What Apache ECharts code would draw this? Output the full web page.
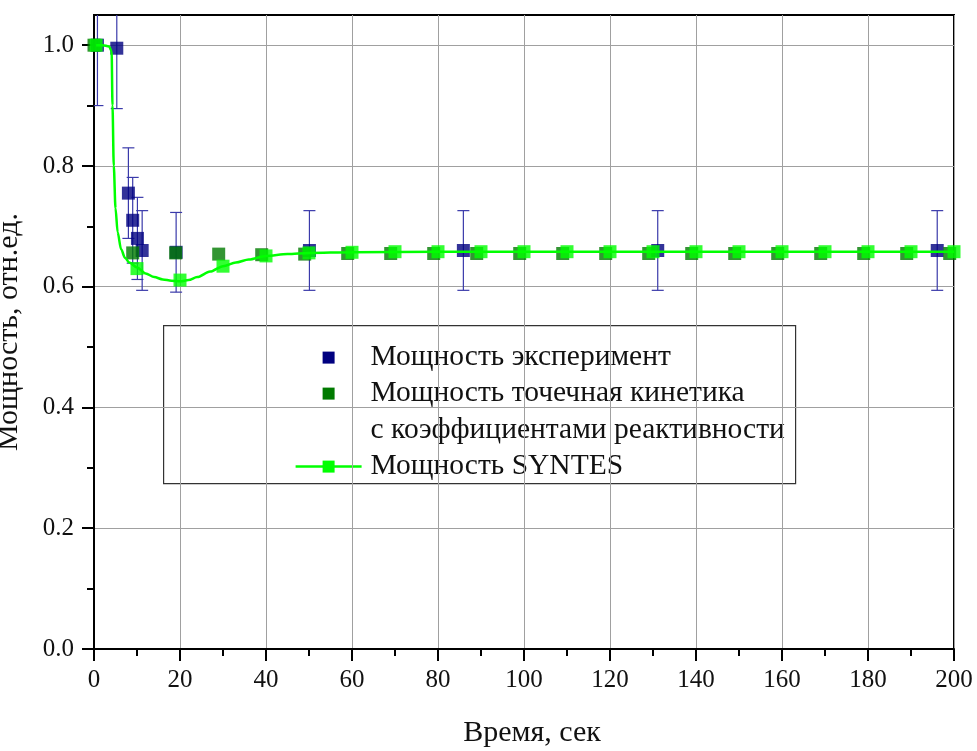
<!DOCTYPE html>
<html>
<head>
<meta charset="utf-8">
<script src="https://cdn.jsdelivr.net/npm/echarts@6/dist/echarts.min.js"></script>
<style>html,body{margin:0;padding:0;background:#fff;}#c{width:977px;height:751px;}</style>
</head>
<body>
<div id="c"></div>
<script>
// Experiment (blue squares with error bars)
const expX   = [0.8, 5.3, 8.0, 9.0, 10.1, 11.2, 19.1, 50.1, 85.9, 131.1, 196.1];
const expY   = [1.0, 0.995, 0.755, 0.71, 0.68, 0.66, 0.657, 0.66, 0.66, 0.66, 0.66];
const expErr = [0.1, 0.1, 0.075, 0.071, 0.068, 0.066, 0.066, 0.066, 0.066, 0.066, 0.066];
// Point kinetics with reactivity coefficients (dark green squares)
const kinX = [0, 9, 19, 29, 39, 49, 59, 69, 79, 89, 99, 109, 119, 129, 139, 149, 159, 169, 179, 189, 199];
const kinY = [1.0, 0.656, 0.656, 0.654, 0.653, 0.654, 0.655, 0.655, 0.655, 0.655, 0.655, 0.655, 0.655, 0.655, 0.655, 0.655, 0.655, 0.655, 0.655, 0.655, 0.655];
// SYNTES markers
const synMarkX = [0.5, 10, 20, 30, 40, 50, 60, 70, 80, 90, 100, 110, 120, 130, 140, 150, 160, 170, 180, 190, 200];
const synMarkY = [1.0, 0.630, 0.611, 0.634, 0.651, 0.656, 0.657, 0.658, 0.658, 0.658, 0.658, 0.658, 0.658, 0.658, 0.658, 0.658, 0.658, 0.658, 0.658, 0.658, 0.658];
// SYNTES curve
const synCurveX = [0.5, 2, 3.5, 4.1, 4.3, 4.6, 5.0, 5.5, 6.3, 7.2, 8.2, 10, 12, 14, 16, 18, 20, 22, 24, 27, 30, 33, 36, 40, 45, 50, 60, 80, 100, 150, 200];
const synCurveY = [1.0, 1.0, 0.998, 0.99, 0.9, 0.8, 0.73, 0.69, 0.662, 0.648, 0.640, 0.632, 0.622, 0.616, 0.612, 0.610, 0.609, 0.611, 0.616, 0.625, 0.634, 0.640, 0.645, 0.651, 0.654, 0.656, 0.657, 0.658, 0.658, 0.658, 0.658];
// Axis ticks
const yTicks = [0, 0.2, 0.4, 0.6, 0.8, 1.0];
const legendNames = ['Мощность эксперимент', 'Мощность точечная кинетика', 'с коэффициентами реактивности', 'Мощность SYNTES'];

const FONT = 'Liberation Serif';
const LFS = 29.5;
const zip = (a, b) => a.map((v, i) => [v, b[i]]);

const chart = echarts.init(document.getElementById('c'), null, {renderer: 'canvas'});
const option = {
  backgroundColor: '#fff',
  animation: false,
  grid: {left: 94, right: 23, top: 15, bottom: 102, show: true, borderColor: '#000', borderWidth: 2, outerBoundsMode: 'none'},
  xAxis: {
    type: 'value', min: 0, max: 200, interval: 20,
    name: 'Время, сек', nameLocation: 'middle', nameGap: 69,
    nameTextStyle: {fontFamily: FONT, fontSize: 30, color: '#111', padding: [0, 0, 0, 16]},
    axisLine: {show: true, onZero: false, lineStyle: {color: '#000', width: 2}},
    axisTick: {show: true, inside: false, length: 12, lineStyle: {color: '#000', width: 2}},
    minorTick: {show: true, splitNumber: 2, length: 7, lineStyle: {color: '#000', width: 2}},
    axisLabel: {fontFamily: FONT, fontSize: 25, color: '#111', margin: 19},
    splitLine: {show: true, lineStyle: {color: '#a0a0a0', width: 1}}
  },
  yAxis: {
    type: 'value', min: 0, max: 1.05, interval: 0.2,
    name: 'Мощность, отн.ед.', nameLocation: 'middle', nameGap: 70, nameRotate: 90,
    nameTextStyle: {fontFamily: FONT, fontSize: 30, color: '#111'},
    axisLine: {show: true, onZero: false, lineStyle: {color: '#000', width: 2}},
    axisTick: {show: true, inside: false, length: 12, customValues: yTicks, lineStyle: {color: '#000', width: 2}},
    minorTick: {show: true, splitNumber: 2, length: 7, lineStyle: {color: '#000', width: 2}},
    axisLabel: {fontFamily: FONT, fontSize: 25, color: '#111', margin: 20, customValues: yTicks,
      formatter: v => v.toFixed(1)},
    splitLine: {show: true, lineStyle: {color: '#a0a0a0', width: 1}}
  },
  series: [
    {
      type: 'custom', name: 'err', clip: true, z: 2,
      data: expX.map((x, i) => [x, expY[i], expErr[i]]),
      renderItem: (params, api) => {
        const x = api.value(0), y = api.value(1), e = api.value(2);
        const t = api.coord([x, y + e]), b = api.coord([x, y - e]);
        const hw = 6, st = {stroke: '#3a3aaa', lineWidth: 1.2};
        return {type: 'group', children: [
          {type: 'line', shape: {x1: t[0], y1: t[1], x2: b[0], y2: b[1]}, style: st},
          {type: 'line', shape: {x1: t[0] - hw, y1: t[1], x2: t[0] + hw, y2: t[1]}, style: st},
          {type: 'line', shape: {x1: b[0] - hw, y1: b[1], x2: b[0] + hw, y2: b[1]}, style: st}
        ]};
      }
    },
    {type: 'scatter', name: legendNames[0], data: zip(expX, expY), symbol: 'rect', symbolSize: 13,
      itemStyle: {color: '#000080'}, z: 3},
    {type: 'scatter', name: legendNames[1], data: zip(kinX, kinY), symbol: 'rect', symbolSize: 13,
      itemStyle: {color: '#007a00'}, z: 4},
    {type: 'line', name: legendNames[3], data: zip(synCurveX, synCurveY), showSymbol: false, symbol: 'none',
      smooth: 0.3, smoothMonotone: 'x', lineStyle: {color: '#00ff00', width: 2.5}, z: 5},
    {type: 'scatter', name: legendNames[3] + ' ', data: zip(synMarkX, synMarkY), symbol: 'rect', symbolSize: 13,
      itemStyle: {color: '#00ff00'}, z: 6}
  ],
  graphic: [
    {type: 'group', left: 163, top: 325, z: 100, children: [
      {type: 'rect', shape: {x: 0, y: 0, width: 632, height: 158}, style: {fill: '#fff', stroke: '#333', lineWidth: 1.2}},
      {type: 'rect', shape: {x: 159, y: 26, width: 12, height: 12}, style: {fill: '#000080'}},
      {type: 'rect', shape: {x: 159, y: 62, width: 12, height: 12}, style: {fill: '#007a00'}},
      {type: 'line', shape: {x1: 132, y1: 141, x2: 198, y2: 141}, style: {stroke: '#00ff00', lineWidth: 2.5}},
      {type: 'rect', shape: {x: 159, y: 135, width: 12, height: 12}, style: {fill: '#00ff00'}},
      {type: 'text', x: 207, y: 32, style: {text: legendNames[0], fontFamily: FONT, fontSize: LFS, fill: '#111', verticalAlign: 'middle'}},
      {type: 'text', x: 207, y: 68, style: {text: legendNames[1], fontFamily: FONT, fontSize: LFS, fill: '#111', verticalAlign: 'middle'}},
      {type: 'text', x: 207, y: 105, style: {text: legendNames[2], fontFamily: FONT, fontSize: LFS, fill: '#111', verticalAlign: 'middle'}},
      {type: 'text', x: 207, y: 141, style: {text: legendNames[3], fontFamily: FONT, fontSize: LFS, fill: '#111', verticalAlign: 'middle'}}
    ]}
  ]
};
chart.setOption(option);
</script>
</body>
</html>
